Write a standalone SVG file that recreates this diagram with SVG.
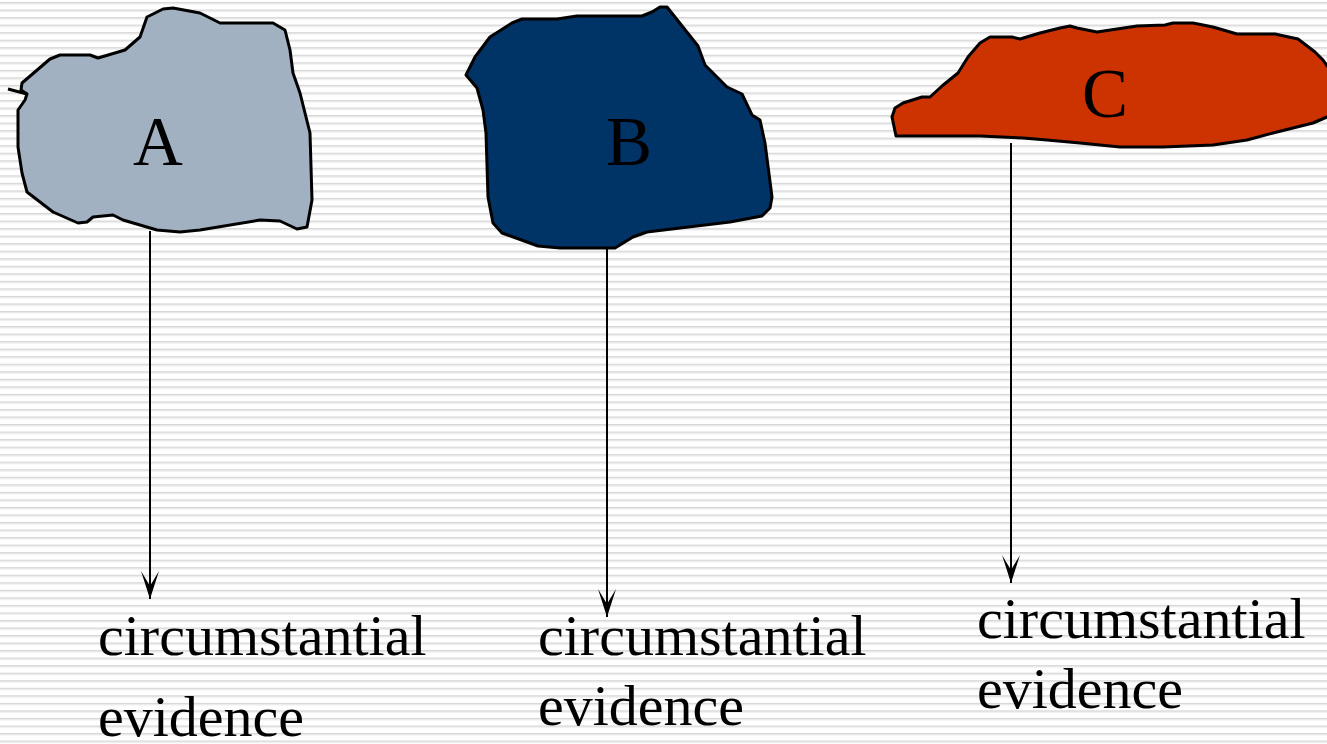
<svg xmlns="http://www.w3.org/2000/svg" width="1327" height="744" viewBox="0 0 1327 744">
  <style>
    .shape { stroke: #000; stroke-width: 3; stroke-linejoin: round; }
    .letter { font-family: "Liberation Serif", "Times New Roman", serif; font-size: 69px; fill: #000; text-anchor: middle; }
    .label { font-family: "Liberation Serif", "Times New Roman", serif; font-size: 58px; fill: #000; }
    .conn { stroke: #000; stroke-width: 2; fill: none; marker-end: url(#arrow); }
  </style>
  <defs>
    <pattern id="stripes" patternUnits="userSpaceOnUse" x="0" y="2" width="20" height="7.536">
      <rect x="0" y="0" width="20" height="1" fill="#d6d6d6"/>
      <rect x="0" y="1" width="20" height="1.3" fill="#e6e6e6"/>
    </pattern>
    <marker id="arrow" markerUnits="userSpaceOnUse" markerWidth="40" markerHeight="40" refX="0" refY="0" viewBox="-30 -20 40 40" orient="auto" overflow="visible">
      <path d="M0,0 L-28,-9 L-13,0 L-28,9 Z" fill="#000"/>
    </marker>
  </defs>
  <rect width="1327" height="744" fill="#ffffff"/>
  <rect width="1327" height="744" fill="url(#stripes)"/>

  <g id="connectors">
    <line class="conn" x1="150" y1="231" x2="150" y2="599"/>
    <line class="conn" x1="607" y1="248" x2="607" y2="617"/>
    <line class="conn" x1="1011" y1="143" x2="1011" y2="583"/>
  </g>

  <g id="node-A">
    <path class="shape" fill="#a2b1c1" d="M22,83 L50,59 L60,55 L90,55 L98,58 L125,50 L140,37 L147,17 L163,9 L173,8 L200,13 L220,23 L273,23 L285,30 L290,50 L293,73 L300,93 L310,133 L312,200 L307,227 L297,229 L280,221 L260,220 L200,230 L180,232 L157,230 L123,220 L113,215 L93,217 L87,222 L78,223 L53,212 L27,192 L22,173 L18,147 L18,110 L25,100 L27,94 L21,90 Z"/>
    <line x1="8" y1="89" x2="27" y2="94" stroke="#000" stroke-width="3"/>
    <text class="letter" x="158" y="165">A</text>
  </g>

  <g id="node-B">
    <path class="shape" fill="#003366" d="M466,75 L475,57 L490,37 L512,23 L522,19 L557,19 L577,16 L642,16 L652,12 L660,7 L667,7 L698,46 L705,65 L727,87 L742,94 L752,115 L760,120 L765,143 L772,197 L770,208 L762,216 L730,222 L647,232 L633,237 L615,248 L560,248 L538,246 L502,233 L493,223 L488,197 L486,133 L483,110 L477,88 Z"/>
    <text class="letter" x="629" y="165">B</text>
  </g>

  <g id="node-C">
    <path class="shape" fill="#cc3300" d="M892,117 L895,108 L903,103 L922,97 L930,97 L942,86 L958,73 L968,57 L980,43 L990,37 L1012,37 L1020,39 L1040,33 L1060,28 L1070,26 L1077,28 L1097,32 L1137,26 L1165,25 L1173,23 L1193,23 L1213,27 L1237,34 L1275,34 L1298,39 L1315,52 L1323,60 L1330,70 L1335,90 L1335,112 L1327,117 L1313,123 L1273,133 L1247,140 L1213,145 L1163,147 L1120,147 L1080,143 L1047,140 L1023,138 L980,136 L896,136 Z"/>
    <text class="letter" x="1105" y="117">C</text>
  </g>

  <g id="label-A">
    <text class="label" x="98" y="655">circumstantial</text>
    <text class="label" x="98" y="736">evidence</text>
  </g>
  <g id="label-B">
    <text class="label" x="538" y="655">circumstantial</text>
    <text class="label" x="538" y="725">evidence</text>
  </g>
  <g id="label-C">
    <text class="label" x="977" y="638">circumstantial</text>
    <text class="label" x="977" y="708">evidence</text>
  </g>
</svg>
